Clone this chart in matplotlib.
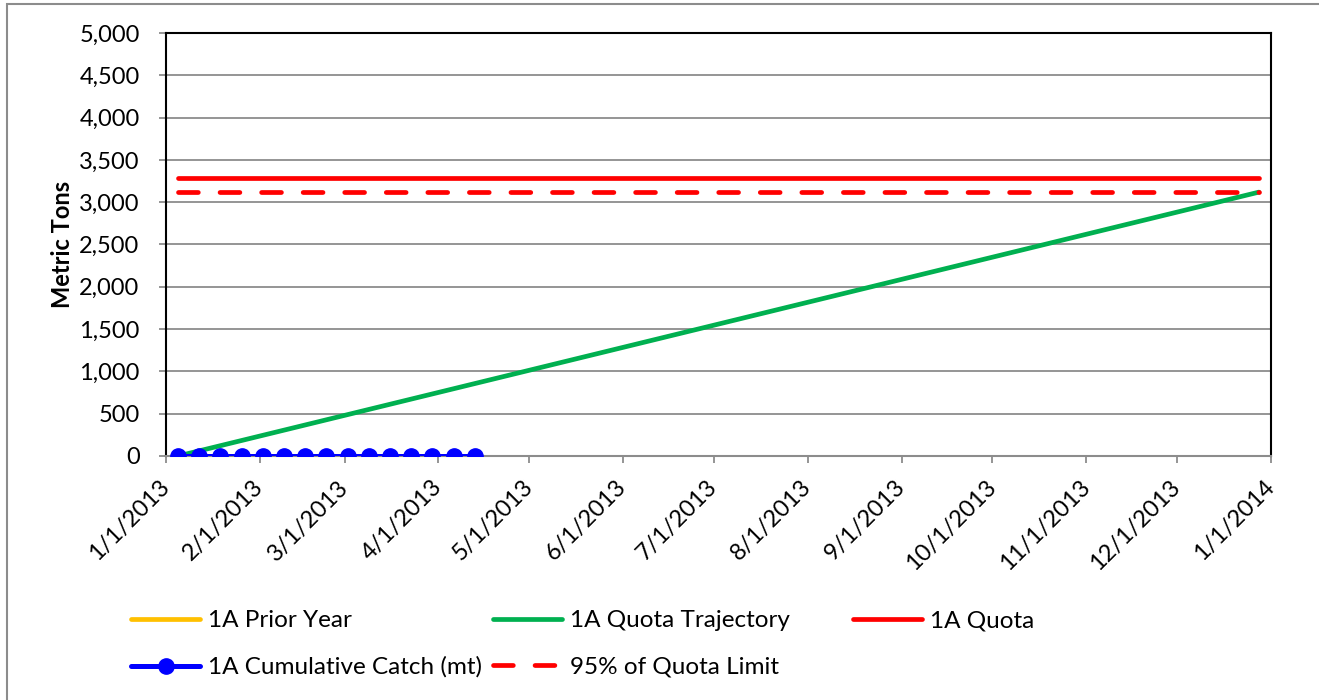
import datetime as dt
import matplotlib
matplotlib.use("Agg")
import matplotlib.pyplot as plt
import matplotlib.dates as mdates
from matplotlib.patches import Rectangle
from matplotlib.ticker import FuncFormatter, MultipleLocator

plt.rcParams['font.family'] = ['Lato', 'DejaVu Sans']

# weekly catch reports (all zero so far)
catch_dates = [dt.date(2013, 1, 5) + dt.timedelta(weeks=i) for i in range(15)]
catch_mt = [0] * 15

# straight-line quota trajectory and quota lines (end points only)
line_dates = [dt.date(2013, 1, 5), dt.date(2013, 12, 28)]
trajectory_mt = [0, 3119]
quota_mt = [3283, 3283]
quota95_mt = [3119, 3119]
prior_year_dates = []
prior_year_mt = []

fig = plt.figure(figsize=(13.19, 7.0), dpi=100)
ax = fig.add_axes([166 / 1319, 1 - 456 / 700, (1271 - 166) / 1319, (456 - 33) / 700])

p_prior, = ax.plot(prior_year_dates, prior_year_mt, color='#FFC000', lw=3.4,
                   solid_capstyle='round', label='1A Prior Year')
p_traj, = ax.plot(line_dates, trajectory_mt, color='#00B050', lw=3.4,
                  solid_capstyle='round', label='1A Quota Trajectory')
p_quota, = ax.plot(line_dates, quota_mt, color='#FF0000', lw=3.4,
                   solid_capstyle='round', label='1A Quota')
p_catch, = ax.plot(catch_dates, catch_mt, color='#0000FF', lw=3.6, marker='o',
                   markersize=11, solid_capstyle='round',
                   label='1A Cumulative Catch (mt)', zorder=4)
p_95, = ax.plot(line_dates, quota95_mt, color='#FF0000', lw=3.4, dashes=(4.2, 4.6),
                dash_capstyle='round', label='95% of Quota Limit')

ax.set_xlim(dt.date(2013, 1, 1), dt.date(2014, 1, 1))
ax.set_ylim(0, 5000)
ax.yaxis.set_major_locator(MultipleLocator(500))
ax.yaxis.set_major_formatter(FuncFormatter(lambda v, p: f"{int(v):,}"))
ax.xaxis.set_major_locator(mdates.MonthLocator())
ax.xaxis.set_major_formatter(FuncFormatter(
    lambda v, p: (lambda d: f"{d.month}/{d.day}/{d.year}")(mdates.num2date(v))))

ax.grid(axis='y', color='#8C8C8C', lw=1.3)
ax.set_axisbelow(True)
for side in ['left', 'top', 'right']:
    ax.spines[side].set_color('black')
    ax.spines[side].set_linewidth(1.5)
ax.spines['bottom'].set_color('#8C8C8C')
ax.spines['bottom'].set_linewidth(1.5)
ax.tick_params(axis='both', direction='out', length=5, width=1.3, color='#8C8C8C',
               labelsize=17)
ax.tick_params(axis='y', pad=14)
ax.tick_params(axis='x', pad=15)
for lab in ax.get_xticklabels():
    lab.set_rotation(45)
    lab.set_ha('right')
    lab.set_va('center')
    lab.set_rotation_mode('anchor')

ax.set_ylabel('Metric Tons', fontsize=17, fontweight='bold', labelpad=4)

# legend laid out as three columns like the original
leg_kw = dict(frameon=False, fontsize=17.5, handlelength=2.85, handletextpad=0.3,
              labelspacing=1.05, borderaxespad=0, borderpad=0, loc='upper left')
fig.legend([p_prior, p_catch], ['1A Prior Year', '1A Cumulative Catch (mt)'],
           bbox_to_anchor=(131 / 1319, 1 - 610 / 700), **leg_kw)
fig.legend([p_traj, p_95], ['1A Quota Trajectory', '95% of Quota Limit'],
           bbox_to_anchor=(493 / 1319, 1 - 610 / 700), **leg_kw)
fig.legend([p_quota], ['1A Quota'],
           bbox_to_anchor=(853 / 1319, 1 - 610 / 700), **leg_kw)

fig.add_artist(Rectangle((7 / 1319, -0.05), 1.1, 0.05 + 1 - 4 / 700,
                         transform=fig.transFigure, fill=False,
                         edgecolor='#8C8C8C', lw=1.5))

fig.savefig('out.png', dpi=100)
